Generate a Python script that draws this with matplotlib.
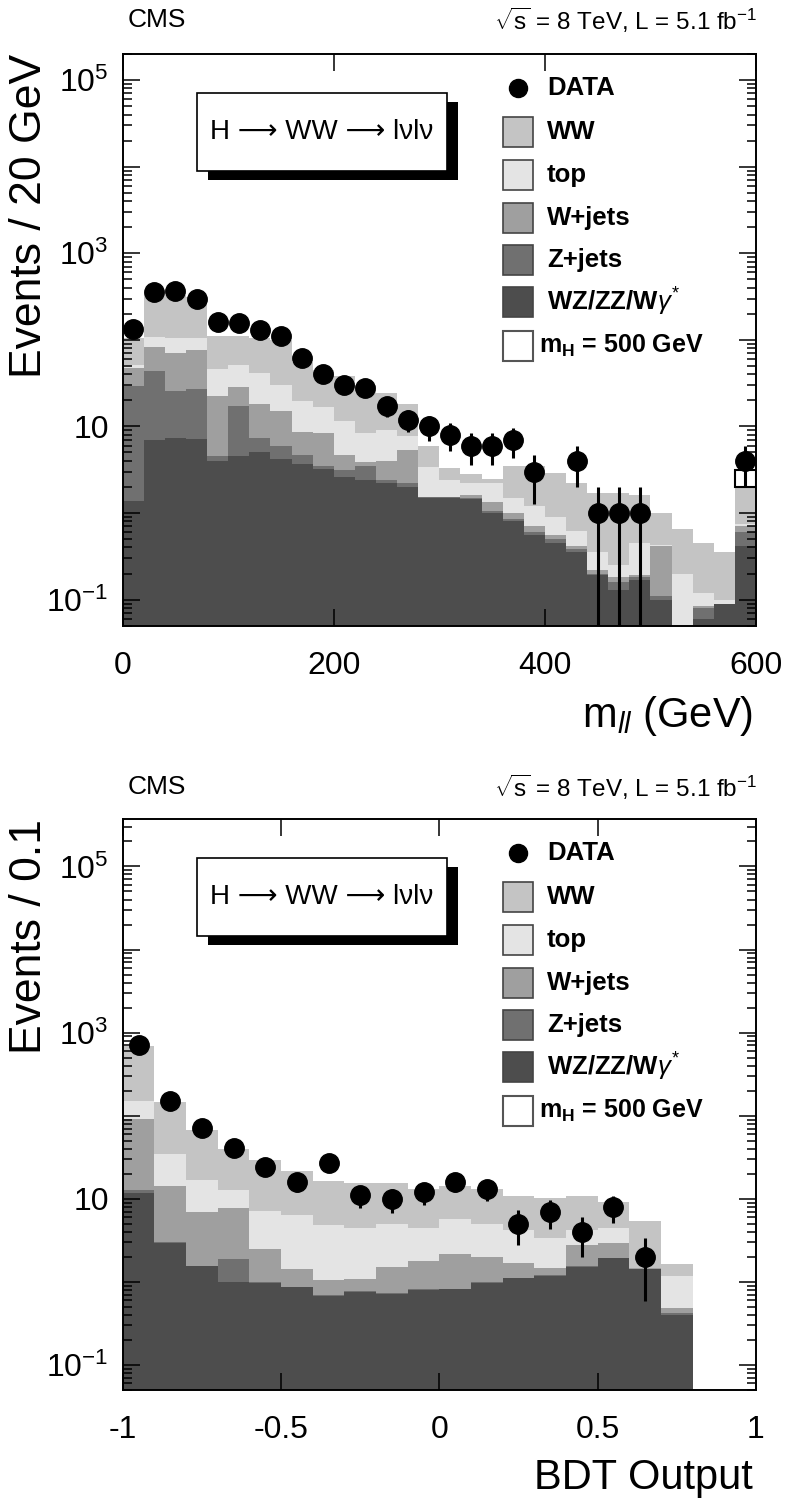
import numpy as np
import matplotlib
matplotlib.use('Agg')
import matplotlib.pyplot as plt
from matplotlib.patches import Rectangle
from matplotlib.ticker import FixedLocator, FuncFormatter, NullLocator

plt.rcParams['font.family'] = ['Liberation Sans', 'DejaVu Sans']
plt.rcParams['mathtext.fontset'] = 'custom'
plt.rcParams['mathtext.rm'] = 'Liberation Sans'
plt.rcParams['mathtext.it'] = 'Liberation Sans:italic'
plt.rcParams['mathtext.bf'] = 'Liberation Sans:bold'

# ---- m_ll distribution, 20 GeV bins, 0-600 GeV (last bin incl. overflow)
mll_edges = np.arange(0, 620, 20)
mll_data = [133, 353, 369, 296, 159, 155, 130, 112, 61, 40, 30, 28, 17, 12, 10,
            8, 6, 6, 7, 3, 0, 4, 1, 1, 1, 0, 0, 0, 0, 4]
mll_wz = [1.37, 7.0, 7.3, 7.1, 4.0, 4.6, 5.0, 4.2, 3.7, 3.2, 2.6, 2.4, 2.2, 2.0, 1.5,
          1.5, 1.45, 1.0, 0.8, 0.55, 0.45, 0.35, 0.19, 0.13, 0.17, 0.1, 0, 0.06, 0.09, 0.42]
mll_zjets = [28.2, 36.4, 18.2, 20.0, 0.5, 12.4, 2.4, 1.7, 1.0, 0.3, 0.5, 1.1, 0.2, 0.2, 0.02,
             0.02, 0.03, 0.05, 0.05, 0.05, 0.05, 0.03, 0.01, 0.03, 0.01, 0.01, 0, 0.02, 0, 0.18]
mll_wjets = [17.4, 40.0, 44.5, 49.3, 17.8, 11.8, 10.8, 9.0, 4.0, 4.9, 1.6, 0.4, 1.6, 3.2, 0.03,
             0.03, 0.12, 0.28, 0.15, 0.1, 0.05, 0.04, 0.02, 0.02, 0.01, 0.31, 0, 0.005, 0, 0.1]
mll_top = [4.8, 25.3, 35.0, 28.6, 23.8, 23.0, 23.5, 15.3, 11.2, 8.3, 6.8, 4.5, 5.2, 2.3, 1.85,
           0.85, 0.6, 0.87, 0.5, 0.5, 0.35, 0.2, 0.13, 0.07, 0.26, 0.01, 0.2, 0.035, 0.01, 0.05]
mll_ww = [53.2, 220, 224, 210, 66, 60, 63, 70, 35, 28, 26.5, 21.6, 14.8, 10.3, 2.6,
          0.9, 0.6, 0.3, 2.0, 2.3, 2.0, 1.58, 1.35, 1.45, 1.15, 0.57, 0.45, 0.33, 0.25, 1.25]
mll_sig = [0] * 29 + [1.1]

# ---- BDT output, 0.1 bins
bdt_edges = np.linspace(-1, 1, 21)
bdt_data = [714, 149, 71, 41, 24, 16, 27, 11, 10, 12, 16, 13, 5, 7, 4, 8, 2, 0, 0, 0]
bdt_wz = [11.7, 2.95, 1.55, 1.01, 0.98, 0.86, 0.68, 0.75, 0.72, 0.8,
          0.81, 0.98, 1.1, 1.18, 1.52, 1.92, 1.41, 0.4, 0, 0]
bdt_zjets = [0.9, 0.05, 0.02, 0.87, 0.02, 0.02, 0.02, 0.02, 0.01, 0.01,
             0.01, 0.01, 0.01, 0.02, 0.02, 0.02, 0.02, 0.02, 0, 0]
bdt_wjets = [78.4, 11.1, 5.33, 5.82, 1.48, 0.55, 0.34, 0.31, 0.78, 0.96,
             1.34, 1.01, 0.58, 0.25, 1.26, 1.0, 0.02, 0.06, 0, 0]
bdt_top = [60, 20.7, 10.1, 4.9, 4.72, 4.87, 3.86, 3.32, 3.49, 2.63,
           3.54, 3.0, 2.56, 1.95, 1.45, 1.46, 0.02, 0.71, 0, 0]
bdt_ww = [531, 110, 49.5, 27.1, 21.8, 15.6, 11.3, 11.1, 10.5, 8.7,
          8.4, 8.0, 6.45, 6.7, 6.45, 4.65, 3.89, 0.47, 0, 0]
bdt_sig = [0] * 20

colors = ['#4d4d4d', '#707070', '#9f9f9f', '#e4e4e4', '#c4c4c4']
leg_labels = ['WW', 'top', 'W+jets', 'Z+jets', r'WZ/ZZ/W$\gamma^{*}$']
leg_colors = ['#c4c4c4', '#e4e4e4', '#9f9f9f', '#707070', '#4d4d4d']


def ytick_fmt(v, pos):
    e = int(round(np.log10(v)))
    if e == 1:
        return '10'
    if e in (-1, 3, 5):
        return r'$10^{%d}$' % e
    return ''


def draw_panel(ax, edges, comps, data, sig, ylim, xticks, xticklabels, ylabel, xlabel):
    edges = np.asarray(edges)
    base = np.zeros(len(edges) - 1)
    for vals, c in zip(comps, colors):
        top = base + np.asarray(vals)
        ax.stairs(top, edges, baseline=base.copy(), fill=True, color=c, lw=0)
        base = top
    sig = np.asarray(sig)
    m = sig > 0
    centers = 0.5 * (edges[1:] + edges[:-1])
    width = edges[1] - edges[0]
    if m.any():
        ax.bar(centers[m], sig[m], width=width, bottom=base[m], facecolor='white',
               edgecolor='black', lw=1.5, zorder=3)
    d = np.asarray(data, dtype=float)
    k = d > 0
    ax.errorbar(centers[k], d[k], yerr=np.sqrt(d[k]), fmt='o', color='black',
                ms=14, elinewidth=2.2, capsize=0, zorder=5)

    ax.set_yscale('log')
    ax.set_ylim(*ylim)
    ax.set_xlim(edges[0], edges[-1])
    ax.yaxis.set_major_locator(FixedLocator([10.0 ** e for e in range(-2, 7)]))
    ax.yaxis.set_minor_locator(FixedLocator([k * 10.0 ** e for e in range(-2, 7) for k in range(2, 10)]))
    ax.yaxis.set_major_formatter(FuncFormatter(ytick_fmt))
    ax.set_xticks(xticks)
    ax.set_xticklabels(xticklabels)
    ax.xaxis.set_minor_locator(NullLocator())
    ax.tick_params(which='both', direction='in', top=True, right=True, width=1.1)
    ax.tick_params(which='major', length=12.5, labelsize=23)
    ax.tick_params(which='minor', length=6.5)
    ax.tick_params(axis='y', pad=10)
    ax.tick_params(axis='x', pad=18)
    for s in ax.spines.values():
        s.set_linewidth(1.4)

    ax.set_ylabel(ylabel, fontsize=32, loc='top')
    ax.yaxis.set_label_coords(-0.115, 1.0)
    ax.set_xlabel(xlabel, fontsize=30, loc='right')
    ax.xaxis.set_label_coords(0.995, -0.12)

    # process box with shadow
    ax.add_patch(Rectangle((0.1347, 0.7796), 0.3948, 0.1365, transform=ax.transAxes,
                           facecolor='black', edgecolor='none', zorder=6))
    ax.add_patch(Rectangle((0.1173, 0.7953), 0.3948, 0.1365, transform=ax.transAxes,
                           facecolor='white', edgecolor='black', lw=1.2, zorder=7))
    ax.text(0.3147, 0.8636, 'H \u27f6 WW \u27f6 l\u03bdl\u03bd', transform=ax.transAxes,
            ha='center', va='center', fontsize=20, zorder=8)

    # legend
    rows = [0.9405, 0.8636, 0.788, 0.713, 0.6397, 0.5662, 0.489]
    ax.plot([0.624], [rows[0]], 'o', color='black', ms=13, transform=ax.transAxes, clip_on=False)
    ax.text(0.670, rows[0], 'DATA', transform=ax.transAxes, va='center', fontsize=18.5, weight='bold')
    for r, lab, c in zip(rows[1:6], leg_labels, leg_colors):
        ax.add_patch(Rectangle((0.6005, r - 0.026), 0.0474, 0.0525, transform=ax.transAxes,
                               facecolor=c, edgecolor='#444444', lw=1.2, zorder=6))
        ax.text(0.670, r, lab, transform=ax.transAxes, va='center', fontsize=18.5, weight='bold')
    ax.add_patch(Rectangle((0.6005, rows[6] - 0.026), 0.0474, 0.0525, transform=ax.transAxes,
                           facecolor='white', edgecolor='#555555', lw=1.5, zorder=6))
    ax.text(0.657, rows[6], r'm$_{\mathbf{H}}$ = 500 GeV', transform=ax.transAxes, va='center',
            fontsize=18, weight='bold')


fig = plt.figure(figsize=(7.86, 15.04), dpi=100)
ax1 = fig.add_axes([0.1561, 0.5840, 0.8057, 0.3801])
ax2 = fig.add_axes([0.1561, 0.0758, 0.8057, 0.3795])

draw_panel(ax1, mll_edges, [mll_wz, mll_zjets, mll_wjets, mll_top, mll_ww], mll_data, mll_sig,
           (0.05, 2e5), [0, 200, 400, 600], ['0', '200', '400', '600'],
           'Events / 20 GeV', r'm$_{\mathit{ll}}$ (GeV)')
draw_panel(ax2, bdt_edges, [bdt_wz, bdt_zjets, bdt_wjets, bdt_top, bdt_ww], bdt_data, bdt_sig,
           (0.05, 3.7e5), [-1, -0.5, 0, 0.5, 1], ['-1', '-0.5', '0', '0.5', '1'],
           'Events / 0.1', 'BDT Output')

for y in (0.9867, 0.4767):
    fig.text(0.163, y, 'CMS', fontsize=19, va='center')
    fig.text(0.963, y, r'$\sqrt{\mathrm{s}}$ = 8 TeV, L = 5.1 fb$^{-1}$', fontsize=17.5,
             va='center', ha='right')

fig.savefig('out.png', dpi=100)
